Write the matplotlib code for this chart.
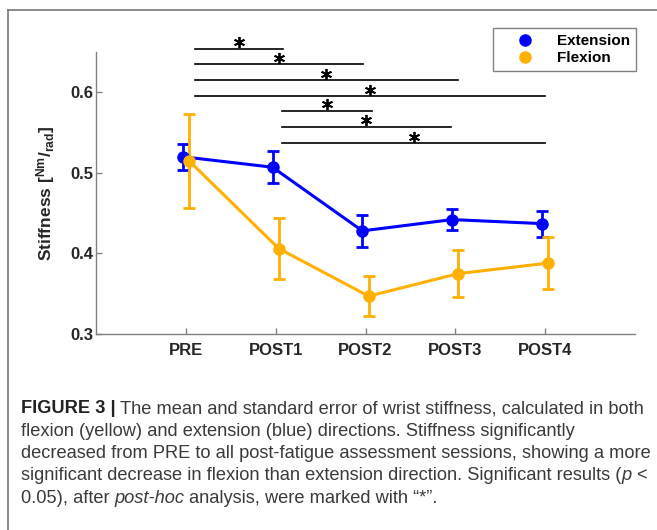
import matplotlib
matplotlib.use("Agg")
import matplotlib.pyplot as plt
from matplotlib.lines import Line2D
import numpy as np

# valeurs
sessions = ["PRE", "POST1", "POST2", "POST3", "POST4"]
ext_mean = [0.520, 0.507, 0.428, 0.442, 0.437]
ext_err = [0.016, 0.020, 0.020, 0.013, 0.016]
flx_mean = [0.515, 0.406, 0.347, 0.375, 0.388]
flx_err = [0.058, 0.038, 0.025, 0.029, 0.032]

# barres de significativite (debut, fin, hauteur)
sig_start = [1.10, 1.10, 1.10, 1.10, 2.07, 2.07, 2.07]
sig_end = [2.08, 2.97, 4.03, 5.00, 3.07, 3.95, 5.00]
sig_y = [0.654, 0.635, 0.615, 0.595, 0.577, 0.557, 0.537]

W, H = 657, 530
plt.rcParams['font.family'] = ['Liberation Sans', 'DejaVu Sans']
plt.rcParams['mathtext.fontset'] = 'custom'
plt.rcParams['mathtext.rm'] = 'Liberation Sans:bold'
plt.rcParams['mathtext.it'] = 'Liberation Sans:bold'
plt.rcParams['mathtext.bf'] = 'Liberation Sans:bold'

fig = plt.figure(figsize=(W / 100, H / 100), dpi=100)
ax = fig.add_axes([96 / W, 1 - 334 / H, (635 - 96) / W, (334 - 52) / H])

blue = '#0000FF'
orange = '#FFB000'
x = np.arange(1, len(sessions) + 1)
off = 0.035

ax.errorbar(x - off, ext_mean, yerr=ext_err, color=blue, marker='o', ms=8,
            lw=2.2, elinewidth=2, capsize=4, capthick=2)
ax.errorbar(x + off, flx_mean, yerr=flx_err, color=orange, marker='o', ms=8,
            lw=2.2, elinewidth=2, capsize=4, capthick=2)

# lignes + etoiles
for s, e, y in zip(sig_start, sig_end, sig_y):
    ax.plot([s, e], [y, y], color='k', lw=1.2, clip_on=False)
    ax.plot([(s + e) / 2], [y + 0.008], ls='none', marker=(6, 2, 0), ms=8,
            mew=1.3, color='k', clip_on=False)

ax.set_xlim(0, 6)
ax.set_ylim(0.3, 0.65)
ax.set_xticks(x)
ax.set_xticklabels(sessions, fontweight='bold')
ax.set_yticks([0.3, 0.4, 0.5, 0.6])
ax.set_yticklabels(['0.3', '0.4', '0.5', '0.6'], fontweight='bold')
ax.tick_params(direction='in', length=4, color='#808080', labelcolor='#262626',
               labelsize=12, width=1)
ax.tick_params(axis='x', pad=6.5)
ax.tick_params(axis='y', pad=2)
for side in ['top', 'right']:
    ax.spines[side].set_visible(False)
for side in ['left', 'bottom']:
    ax.spines[side].set_color('#808080')
    ax.spines[side].set_linewidth(1)

ax.set_ylabel(r'Stiffness [$^{\mathrm{Nm}}/_{\mathrm{rad}}$]', fontsize=12.5,
              fontweight='bold', color='#262626')
ax.yaxis.set_label_coords(-0.072, 0.5)

handles = [Line2D([], [], ls='none', marker='o', ms=8, color=blue),
           Line2D([], [], ls='none', marker='o', ms=8, color=orange)]
leg = ax.legend(handles, ['Extension', 'Flexion'], loc='upper right',
                bbox_to_anchor=(636 / W, 1 - 28 / H), bbox_transform=fig.transFigure,
                borderaxespad=0, fancybox=False, framealpha=1, edgecolor='#808080',
                prop={'weight': 'bold', 'size': 11}, handlelength=3.3,
                handletextpad=0.45, borderpad=0.4, labelspacing=0.2)
leg.get_frame().set_linewidth(1)

# cadre de la figure
fig.add_artist(Line2D([8 / W, 8 / W], [0, 1 - 10 / H], transform=fig.transFigure,
                      color='#777777', lw=1.2))
fig.add_artist(Line2D([8 / W, 1], [1 - 10 / H, 1 - 10 / H], transform=fig.transFigure,
                      color='#777777', lw=1.2))

# legende de la figure (texte)
lines = [
    [("FIGURE 3 |", 'bold', 'normal', 0),
     ("The mean and standard error of wrist stiffness, calculated in both", 'normal', 'normal', 1)],
    [("flexion (yellow) and extension (blue) directions. Stiffness significantly", 'normal', 'normal', 0)],
    [("decreased from PRE to all post-fatigue assessment sessions, showing a more", 'normal', 'normal', 0)],
    [("significant decrease in flexion than extension direction. Significant results (", 'normal', 'normal', 0),
     ("p", 'normal', 'italic', 0.1), ("<", 'normal', 'normal', 1)],
    [("0.05), after", 'normal', 'normal', 0), ("post-hoc", 'normal', 'italic', 1),
     ("analysis, were marked with \u201c*\u201d.", 'normal', 'normal', 1)],
]
baselines = [413, 435.5, 458, 480.5, 503]
renderer = fig.canvas.get_renderer()


def draw_line(base, parts, size):
    xp = 21
    made = []
    for txt, wt, st, gap in parts:
        xp += gap * size * 0.25 * 100 / 72
        col = '#222222' if wt == 'bold' else '#3a3a3a'
        t = fig.text(xp / W, 1 - base / H, txt, fontfamily='Liberation Sans',
                     fontsize=size, color=col, fontweight=wt,
                     fontstyle=st, va='baseline', ha='left')
        made.append(t)
        xp = t.get_window_extent(renderer).x1
    return xp, made


# taille ajustee pour que la 1re ligne aille jusqu'a ~643 px
end, tmp = draw_line(baselines[0], lines[0], 11)
for t in tmp:
    t.remove()
size = 11 * (643 - 21) / (end - 21)
for base, parts in zip(baselines, lines):
    draw_line(base, parts, size)

fig.savefig('out.png', dpi=100)
